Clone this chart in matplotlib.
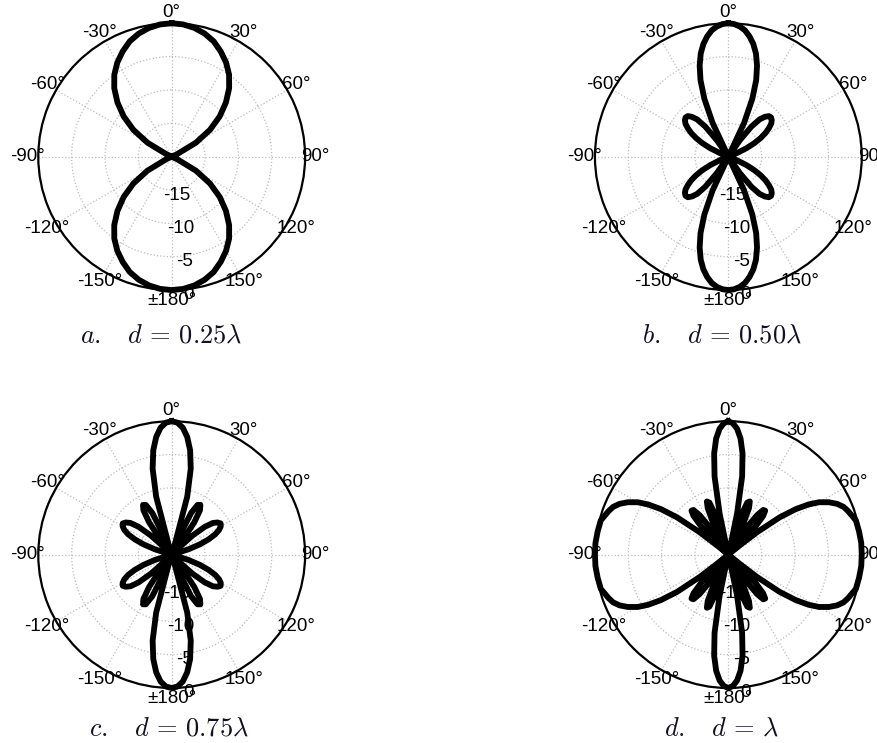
import numpy as np
import matplotlib
matplotlib.use('Agg')
import matplotlib.pyplot as plt

plt.rcParams['font.family'] = ['Liberation Sans', 'DejaVu Sans']
plt.rcParams['mathtext.fontset'] = 'cm'

# Pattern values in dB, one quadrant each
# (angle measured from 0 deg, pattern is symmetric in all four quadrants)
ang_a = [0, 5, 10, 15, 20, 25, 30, 35, 40, 45, 50, 55, 60, 65, 67.5, 90]
db_a = [0, -0.1, -0.4, -0.9, -1.6, -2.6, -3.7, -5.0, -6.6, -8.5, -10.6, -13.0,
        -15.8, -19.1, -20, -20]

ang_b = [0, 2.5, 5, 7.5, 10, 12.5, 15, 17.5, 20, 22.5, 25, 27.5, 30, 32.5, 35,
         37.5, 40, 42.5, 45, 47.5, 50, 52.5, 55, 57.5, 60, 62.5, 65, 67.5, 70, 90]
db_b = [0, -0.1, -0.4, -0.9, -1.7, -2.7, -4.0, -5.7, -7.8, -10.6, -14.4, -20,
        -20, -20, -17.0, -14.3, -12.7, -11.9, -11.4, -11.3, -11.5, -11.9, -12.6,
        -13.4, -14.4, -15.6, -17.0, -18.7, -20, -20]

ang_c = [0, 2.5, 5, 7.5, 10, 12.5, 15, 17.5, 19.5, 21, 22.5, 25, 27.5, 30, 32.5,
         35, 37.5, 40, 41.8, 45, 46, 47.5, 50, 52.5, 55, 57.5, 60, 62.5, 65, 67.5,
         70, 72.5, 75, 77.5, 90]
db_c = [0, -0.2, -0.9, -2.2, -4.1, -6.8, -11.0, -18.7, -20, -20, -16.9, -13.1,
        -11.6, -11.4, -12.1, -14.1, -17.6, -20, -20, -20, -18.4, -15.8, -13.5,
        -12.2, -11.6, -11.3, -11.5, -12.0, -12.8, -14.0, -15.5, -17.4, -19.7,
        -20, -20]

ang_d = [0, 2, 4, 6, 8, 10, 12, 13, 14.5, 16, 18, 20, 22, 24, 26, 28, 30, 32, 34,
         36, 38, 40, 42, 44, 46, 48.6, 50, 51, 52, 54, 56, 58, 60, 62.5, 65, 67.5,
         70, 75, 80, 85, 90]
db_d = [0, -0.3, -1.1, -2.5, -4.7, -8.1, -13.7, -18.5, -20, -19.7, -13.8, -11.7,
        -11.4, -12.4, -15.0, -20, -20, -20, -15.3, -12.7, -11.5, -11.4, -12.2,
        -14.2, -18.3, -20, -20, -17.8, -14.6, -10.5, -7.8, -5.8, -4.3, -3.0, -2.0,
        -1.3, -0.9, -0.2, -0.1, 0, 0]

captions = [r'$a.\enspace\;\,d\,=\,0.25\lambda$', r'$b.\enspace\;\,d\,=\,0.50\lambda$',
            r'$c.\enspace\;\,d\,=\,0.75\lambda$', r'$d.\enspace\;\,d\,=\,\lambda$']

theta_ticks = [0, 30, 60, 90, 120, 150, 180, 210, 240, 270, 300, 330]
theta_labels = ['0°', '30°', '60°', '90°', '120°', '150°', '±180°',
                '-150°', '-120°', '-90°', '-60°', '-30°']
r_ticks = [-15, -10, -5, 0]


def mirror(ang, db):
    # Extend one quadrant to the full circle
    ang = np.asarray(ang, dtype=float)
    db = np.asarray(db, dtype=float)
    t = np.concatenate([ang, 180 - ang[::-1], 180 + ang, 360 - ang[::-1]])
    r = np.concatenate([db, db[::-1], db, db[::-1]])
    return np.deg2rad(t), r


def ax_plot(ax, ang, db):
    t, r = mirror(ang, db)
    ax.plot(t, r, color='black', lw=4.2, clip_on=False, zorder=5,
            solid_joinstyle='round')

    ax.set_theta_zero_location('N')
    ax.set_theta_direction(-1)
    ax.set_ylim(-20, 0)

    # Grid
    ax.set_yticks(r_ticks[:-1])
    ax.set_yticklabels([])
    ax.set_thetagrids(theta_ticks, theta_labels, fontsize=13.5)
    ax.tick_params(axis='x', pad=-3)
    ax.grid(True, color='#bdbdbd', ls=':', lw=0.9)
    ax.spines['polar'].set_linewidth(1.6)

    # Radial labels along the bottom (pattern is drawn over them)
    for v in r_ticks:
        ax.text(np.deg2rad(173), v + 0.8, str(v), fontsize=13.5,
                ha='center', va='center', zorder=4)


def main():
    fig = plt.figure(figsize=(8.78, 7.43), dpi=100)

    data = [(ang_a, db_a), (ang_b, db_b), (ang_c, db_c), (ang_d, db_d)]
    boxes = [[0.0436, 0.6096, 0.3039, 0.3591], [0.6776, 0.6096, 0.3039, 0.3591],
             [0.0436, 0.0740, 0.3039, 0.3591], [0.6776, 0.0740, 0.3039, 0.3591]]
    cap_pos = [(0.184, 0.549), (0.822, 0.549), (0.1925, 0.020), (0.822, 0.020)]

    for (ang, db), box, cap, pos in zip(data, boxes, captions, cap_pos):
        ax = fig.add_axes(box, projection='polar')
        ax_plot(ax, ang, db)
        fig.text(pos[0], pos[1], cap, fontsize=19, ha='center', va='center',
                 color='#111122')

    fig.savefig('out.png', dpi=100)


if __name__ == '__main__':
    main()
